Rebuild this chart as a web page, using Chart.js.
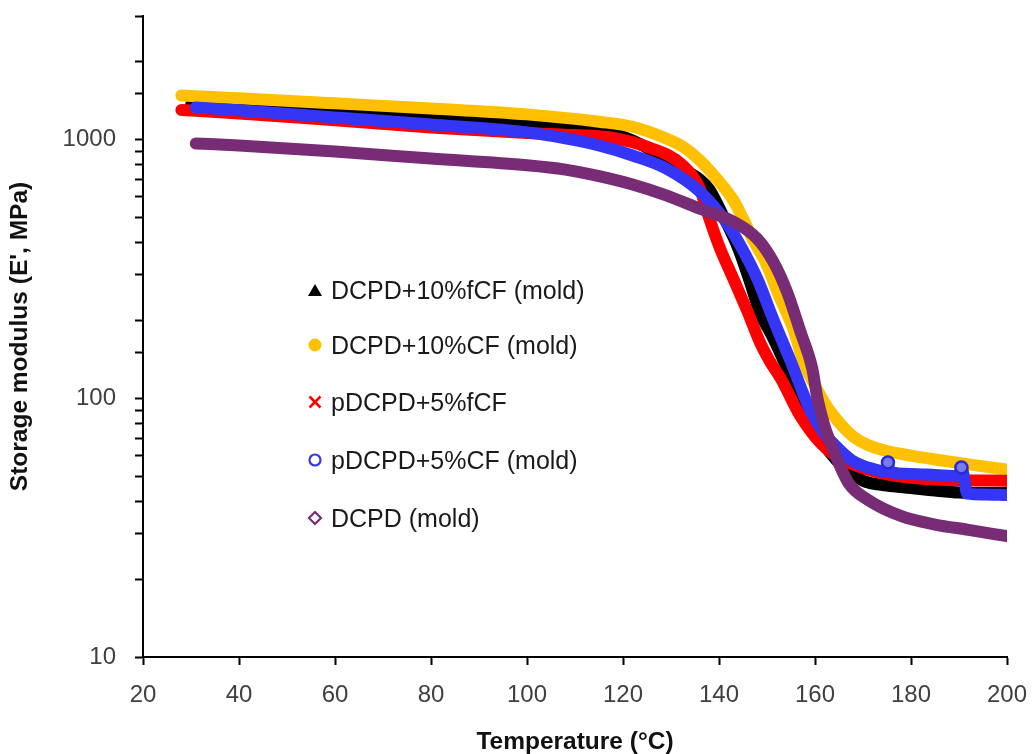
<!DOCTYPE html>
<html>
<head>
<meta charset="utf-8">
<title>Storage modulus</title>
<script src="https://cdn.jsdelivr.net/npm/chart.js@4.4.1/dist/chart.umd.min.js"></script>
<style>
  body { margin: 0; background: #fff; }
  #wrap { position: relative; width: 1035px; height: 754px; }
  #legend { position: absolute; left: 0; top: 0; font-family: "Liberation Sans", Arial, sans-serif; font-size: 25px; color: #1a1a1a; }
  .row { position: absolute; left: 305px; height: 30px; line-height: 30px; white-space: nowrap; display: flex; align-items: center; }
  .row svg { width: 20px; height: 20px; margin-right: 6px; }
</style>
</head>
<body>
<div id="wrap">
  <canvas id="chart" width="1035" height="754"></canvas>
  <div id="legend"></div>
</div>
<script>
// series names, in legend order
const seriesNames = ["DCPD+10%fCF (mold)", "DCPD+10%CF (mold)", "pDCPD+5%fCF", "pDCPD+5%CF (mold)", "DCPD (mold)"];

// temperature (°C) / storage modulus (MPa)
const tFCF10 = [30, 60, 80, 100, 115, 122, 129, 133, 136, 138, 141, 144, 146.5, 148.5, 151, 154, 155.5, 157.5, 160, 163, 166, 170, 175, 180, 185, 190, 195, 200];
const eFCF10 = [1360, 1290, 1230, 1175, 1086, 990, 840, 760, 700, 640, 500, 380, 280, 215, 175, 133, 115, 93, 76, 62, 54, 48, 46, 45, 44, 43.2, 43, 43];

const tCF10 = [28, 40, 60, 80, 100, 115, 122, 129, 132.5, 136, 139.5, 143, 145, 147, 150, 152.5, 155.5, 157.5, 160, 162, 164, 166, 168, 171, 175, 180, 185, 192, 200];
const eCF10 = [1480, 1442, 1379, 1318, 1250, 1171, 1120, 1009, 937, 831, 706, 582, 494, 413, 326, 249, 185, 140, 112, 96, 85, 77, 71, 66, 62.5, 60, 58, 55.5, 53];

const tFCF5 = [28, 40, 60, 80, 100, 110, 117, 125.5, 132.5, 136, 138, 140, 143, 146, 148.5, 150.5, 153, 157, 162.5, 171, 185, 200];
const eFCF5 = [1300, 1261, 1185, 1113, 1060, 1040, 1020, 930, 793, 646, 494, 388, 289, 215, 165, 140, 118, 85, 63.5, 53, 48.5, 48];

const tCF5 = [31, 40, 60, 80, 100, 108, 115, 122, 129, 136, 141, 144.5, 148, 151.3, 155, 159, 162, 165, 168, 171, 175, 175.2, 175.5, 180, 185, 190, 190.5, 191, 191.7, 195, 200];
const eCF5 = [1330, 1296, 1217, 1143, 1065, 1010, 948, 867, 772, 629, 494, 388, 289, 202, 138, 90, 73, 63.5, 57, 54, 52, 56.5, 52, 51, 50.5, 50, 54, 50, 42.8, 42.5, 42.3];

const tNeat = [31, 40, 60, 80, 100, 108, 115, 122, 129, 136, 143, 148, 151.3, 154.2, 157, 159.4, 160.5, 162, 164, 167, 171, 178, 185, 192, 200];
const eNeat = [965, 948, 898, 844, 795, 765, 722, 670, 608, 540, 481, 413, 337, 257, 180, 131, 100, 78, 62, 47, 40.5, 35, 32.5, 31, 29.3];

const xTicks = [20, 40, 60, 80, 100, 120, 140, 160, 180, 200];
const yLabels = [10, 100, 1000];

const colors = ["#000000", "#FFC000", "#FF0000", "#3535F5", "#772C75"];
const markers = ["triangle", "dot", "cross", "ring", "diamond"];

function pts(t, e) {
  return t.map((x, i) => ({ x: x, y: e[i] }));
}

const allData = [pts(tFCF10, eFCF10), pts(tCF10, eCF10), pts(tFCF5, eFCF5), pts(tCF5, eCF5), pts(tNeat, eNeat)];
// black at the bottom, neat DCPD on top
const drawOrder = [4, 3, 2, 1, 0];
// the two stray circles on the blue curve
const strayCF5 = [175.2, 190.5];

const datasets = seriesNames.map((name, i) => ({
  label: name,
  data: allData[i],
  borderColor: colors[i],
  backgroundColor: colors[i],
  borderWidth: 12,
  borderCapStyle: "round",
  borderJoinStyle: "round",
  pointRadius: i === 3 ? (c => strayCF5.includes(c.raw.x) ? 6 : 0) : 0,
  pointBorderWidth: 2.5,
  pointBorderColor: "#2a2ad0",
  pointBackgroundColor: "#7a7af0",
  cubicInterpolationMode: "monotone",
  fill: false,
  order: drawOrder[i]
}));

const tickFont = { family: "'Liberation Sans', Arial, sans-serif", size: 24 };
const titleFont = { family: "'Liberation Sans', Arial, sans-serif", size: 24.5, weight: "bold", lineHeight: 1 };

new Chart(document.getElementById("chart"), {
  type: "line",
  data: { datasets: datasets },
  options: {
    responsive: false,
    animation: false,
    layout: { padding: { left: 0, right: 28, top: 16, bottom: 0 } },
    plugins: { legend: { display: false }, tooltip: { enabled: false } },
    scales: {
      x: {
        type: "linear",
        min: 20,
        max: 200,
        afterBuildTicks: s => { s.ticks = xTicks.map(v => ({ value: v })); },
        ticks: { color: "#404040", font: tickFont, padding: 16, maxRotation: 0 },
        grid: { drawOnChartArea: false, color: "#000", tickLength: 8, tickWidth: 2 },
        border: { color: "#000", width: 2 },
        title: { display: true, text: "Temperature (°C)", color: "#111", font: titleFont, padding: { top: 0, bottom: 0 } },
        afterFit: s => { s.height = 97; s.paddingLeft = 0; s.paddingRight = 0; }
      },
      y: {
        type: "logarithmic",
        min: 10,
        max: 3000,
        ticks: {
          autoSkip: false,
          color: "#404040",
          font: tickFont,
          padding: 19,
          callback: v => yLabels.some(l => Math.abs(l - v) < 1e-6) ? String(Math.round(v)) : ""
        },
        grid: { drawOnChartArea: false, color: "#000", tickLength: 8, tickWidth: 2 },
        border: { color: "#000", width: 2 },
        title: { display: true, text: "Storage modulus (E', MPa)", color: "#111", font: titleFont, padding: { top: 8, bottom: 0 } },
        afterFit: s => { s.width = 143; s.paddingTop = 0; s.paddingBottom = 0; }
      }
    }
  }
});

// legend inside the plot
const rowCenters = [290, 345, 402, 460, 518];
function markerSvg(kind, c) {
  if (kind === "triangle") return `<svg viewBox="0 0 20 20"><polygon points="10,4 17,16 3,16" fill="${c}"/></svg>`;
  if (kind === "dot") return `<svg viewBox="0 0 20 20"><circle cx="10" cy="10" r="6.5" fill="${c}"/></svg>`;
  if (kind === "cross") return `<svg viewBox="0 0 20 20"><path d="M4.5 4.5 L15.5 15.5 M15.5 4.5 L4.5 15.5" stroke="${c}" stroke-width="2.6"/></svg>`;
  if (kind === "ring") return `<svg viewBox="0 0 20 20"><circle cx="10" cy="10" r="5.5" fill="none" stroke="${c}" stroke-width="2.2"/></svg>`;
  return `<svg viewBox="0 0 20 20"><polygon points="10,4 16,10 10,16 4,10" fill="none" stroke="${c}" stroke-width="2.2"/></svg>`;
}
const legend = document.getElementById("legend");
legend.innerHTML = seriesNames.map((name, i) =>
  `<div class="row" style="top:${rowCenters[i] - 15}px">${markerSvg(markers[i], colors[i])}<span>${name}</span></div>`
).join("");
</script>
</body>
</html>
